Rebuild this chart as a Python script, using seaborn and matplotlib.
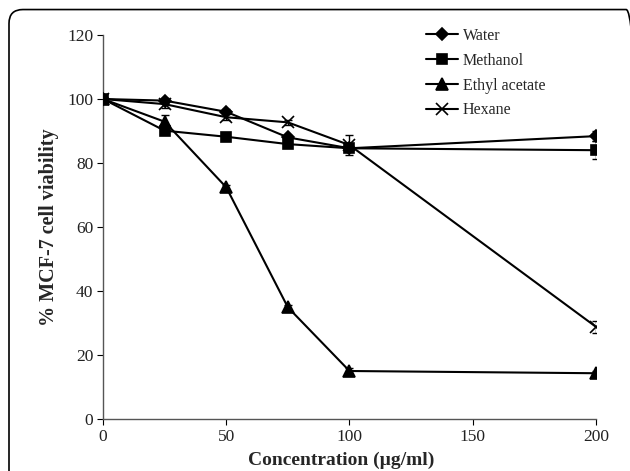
import numpy as np
import pandas as pd
import matplotlib
matplotlib.use("Agg")
import matplotlib.pyplot as plt
import seaborn as sns
from matplotlib.patches import FancyBboxPatch

conc = [0, 25, 50, 75, 100, 200]
water = [100, 99.5, 96.0, 88.0, 84.6, 88.4]
methanol = [100, 90.1, 88.2, 85.9, 84.6, 84.0]
ethyl = [100, 92.9, 72.4, 34.9, 15.0, 14.3]
hexane = [100, 98.4, 94.3, 92.7, 85.6, 28.8]
water_err = [0.5, 0.8, 0.8, 0.8, 1.0, 1.6]
methanol_err = [0.5, 0.8, 0.6, 0.8, 1.0, 2.8]
ethyl_err = [0.5, 2.0, 0.8, 0.8, 0.8, 0.6]
hexane_err = [0.5, 1.2, 1.0, 0.8, 3.0, 1.8]
names = ["Water", "Methanol", "Ethyl acetate", "Hexane"]

series = {"Water": (water, water_err), "Methanol": (methanol, methanol_err),
          "Ethyl acetate": (ethyl, ethyl_err), "Hexane": (hexane, hexane_err)}
rows = []
for n in names:
    vals, errs = series[n]
    for c, v, e in zip(conc, vals, errs):
        rows.append({"conc": c, "val": v, "err": e, "solvent": n})
df = pd.DataFrame(rows)

sns.set_style("ticks")
plt.rcParams['font.family'] = ['Liberation Serif', 'DejaVu Serif']

fig = plt.figure(figsize=(6.3, 4.71), dpi=100)
ax = fig.add_axes([0.1635, 0.1104, 0.946 - 0.1635, 0.9257 - 0.1104])

markers = {"Water": "D", "Methanol": "s", "Ethyl acetate": "^", "Hexane": "x"}
sizes = {"Water": 6, "Methanol": 7, "Ethyl acetate": 8, "Hexane": 8}

for n in names:
    sub = df[df.solvent == n]
    ax.errorbar(sub.conc, sub.val, yerr=sub.err, fmt="none", ecolor="black",
                elinewidth=1, capsize=3, capthick=1, zorder=2)

for n in names:
    sub = df[df.solvent == n]
    sns.lineplot(data=sub, x="conc", y="val", color="black", marker=markers[n],
                 markersize=sizes[n], markeredgecolor="black", markerfacecolor="black",
                 markeredgewidth=1.2, linewidth=1.5, label=n, ax=ax, zorder=3)

ax.set_xlim(0, 200)
ax.set_ylim(0, 120)
ax.set_xticks([0, 50, 100, 150, 200])
ax.set_yticks([0, 20, 40, 60, 80, 100, 120])
ax.tick_params(axis="both", labelsize=12.5, colors="black", length=4, width=0.8,
               direction="out", labelcolor="#222222", pad=3)
for s in ["top", "right"]:
    ax.spines[s].set_visible(False)
for s in ["left", "bottom"]:
    ax.spines[s].set_color("#555555")
    ax.spines[s].set_linewidth(1.0)
ax.set_xlabel("Concentration (\u00b5g/ml)", fontsize=14, fontweight="bold", labelpad=4)
ax.xaxis.set_label_coords((341 - 103) / 493, -0.085)
ax.set_ylabel("% MCF-7 cell viability", fontsize=14.5, fontweight="bold", labelpad=6)

handles, labels = ax.get_legend_handles_labels()
leg = ax.legend(handles[-4:], labels[-4:], loc="upper left",
                bbox_to_anchor=(426 / 630, 1 - 28 / 471), bbox_transform=fig.transFigure,
                frameon=False, fontsize=11.5, handlelength=2.0, handletextpad=0.3,
                labelspacing=0.55, borderpad=0, borderaxespad=0)

border = FancyBboxPatch((9 / 630, -0.05), (640 - 9) / 630, (461 + 24) / 471,
                        boxstyle="round,pad=0,rounding_size=0.022",
                        transform=fig.transFigure, fill=False, edgecolor="black",
                        linewidth=1.2, mutation_aspect=630 / 471)
fig.patches.append(border)

fig.savefig("out.png", dpi=100)
